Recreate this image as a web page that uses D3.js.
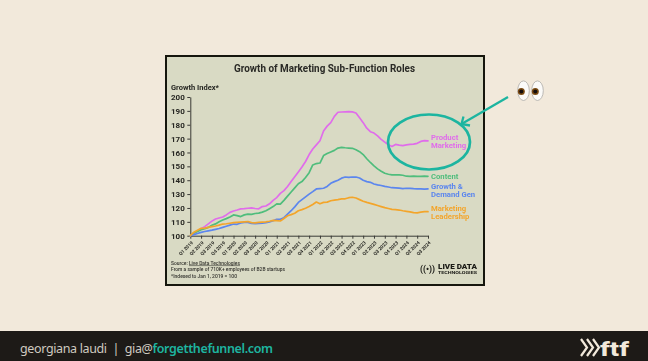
<!DOCTYPE html>
<html>
<head>
<meta charset="utf-8">
<script src="https://cdn.jsdelivr.net/npm/d3@7"></script>
<style>
html, body { margin: 0; padding: 0; background: #f2e9db; overflow: hidden; }
svg { display: block; }
text { font-family: Roboto, sans-serif; }
.axis path, .axis line { stroke: #3a3a36; stroke-width: 1; }
.axis text { fill: #262622; font-family: Roboto, sans-serif; font-weight: 700; }
.y.axis text { font-size: 8px; }
.x.axis text { font-size: 4.7px; }
.series { fill: none; stroke-width: 1.7; stroke-linejoin: round; stroke-linecap: round; }
</style>
</head>
<body>
<script>
const WIDTH = 648;
const HEIGHT = 361;

// one tick per quarter, the lines are read off roughly monthly
const quarters = ["Q1 2019","Q2 2019","Q3 2019","Q4 2019","Q1 2020","Q2 2020","Q3 2020","Q4 2020",
    "Q1 2021","Q2 2021","Q3 2021","Q4 2021","Q1 2022","Q2 2022","Q3 2022","Q4 2022",
    "Q1 2023","Q2 2023","Q3 2023","Q4 2023","Q1 2024","Q2 2024","Q3 2024"];
const yTicks = [100,110,120,130,140,150,160,170,180,190,200];

const productMarketing = [100,101.5,103.5, 105,106.5,108.5, 110.5,112,112.8, 113.5,115,116.8,
    117.8,118.5,119.3, 119.5,119.8,120, 119.6,119.4,121, 121.4,123,125.5,
    127.5,130.5,132.5, 135.5,139,142.5, 146,149.5,153.5, 158.5,162.5,165.5,
    168.5,175.5,179, 181.5,186,189, 189.2,189.3,189.4, 189.3,188.5,185,
    181.5,177.5,175, 174,172,169.5, 167.5,165.5,164.3, 165.8,165.3,165,
    165.5,165.8,166, 166.6,168,168.5, 168.3];
const content = [100,102,103, 104.3,105,106, 107.5,108.5,110, 111.3,112.3,113.5,
    115,114.5,113.8, 115,115.6,115.4, 116,116.3,117, 118,119.5,121,
    123,122.8,125.5, 128.5,131.5,134.5, 137.5,139,142, 145.4,151,152,
    152.4,157.8,159.2, 160.4,161.5,163.2, 163.7,163.4,163.2, 163,162,160.6,
    158.5,155.5,152.8, 150.3,148.2,146.5, 145,144.3,143.9, 143.8,143.9,143.6,
    142.9,142.8,142.9, 142.8,142.8,142.9, 142.8];
const growthDemandGen = [100,100.8,101.6, 102.4,103,103.5, 104,104.6,105.2, 106,106.8,107.6,
    108.4,108.2,109.2, 109.6,109.6,108.8, 108.7,108.9,109, 109.4,110,110.8,
    111.8,111.8,113, 115.5,118,120.8, 124,126,128, 130,131.8,133.7,
    134,134.2,135.5, 137.8,139,140, 141.5,142.3,142, 142.3,142.3,141.6,
    140,139,138.5, 137.3,136.7,136.2, 135.6,135.1,134.6, 134.5,134.3,134,
    134.2,134.1,133.9, 133.8,133.7,133.6, 133.7];
const marketingLeadership = [100,102.5,104, 105.3,105.5,106, 106.5,107,107.6, 108.4,108.6,109,
    109.4,109.6,109.8, 110,110.2,109.4, 109.3,109.6,109.8, 110,110.4,111,
    110.8,110.6,112.4, 114.4,115.2,116.2, 118,118.8,119.8, 121,122.5,124.3,
    123,124,124.2, 125.2,125.6,126, 126.5,126.6,127.4, 127.7,127.2,126,
    124.8,124,123.3, 122.6,121.8,121, 120.2,119.6,119, 118.8,118.5,118,
    117.6,117.2,116.6, 116.5,117,117.3, 117.3];

const seriesLabels = [["Product","Marketing"],["Content"],["Growth &","Demand Gen"],["Marketing","Leadership"]];
const seriesColors = ["#e06ceb","#4fbd7c","#5b86ee","#f3a52c"];
const labelBaselines = [139.5,178.5,188.5,210.5];
const seriesValues = [productMarketing,content,growthDemandGen,marketingLeadership];

const TEAL = "#1eb5a0";
const CREAM = "#f2e9db";

var svg = d3.select("body").append("svg")
    .attr("width", WIDTH)
    .attr("height", HEIGHT);

// soft edges, the reference is a slightly blurred screenshot
var defs = svg.append("defs");
defs.append("filter").attr("id", "soft")
    .attr("x", "-5%").attr("y", "-5%").attr("width", "110%").attr("height", "110%")
    .append("feGaussianBlur").attr("stdDeviation", 0.4);

svg.append("rect").attr("width", WIDTH).attr("height", HEIGHT).attr("fill", CREAM);

var card = svg.append("g").attr("filter", "url(#soft)");
card.append("rect")
    .attr("x", 166).attr("y", 56).attr("width", 318).attr("height", 229)
    .attr("fill", "#d9dac4")
    .attr("stroke", "#14140f")
    .attr("stroke-width", 2);

card.append("text")
    .attr("x", 234).attr("y", 72)
    .attr("textLength", 181).attr("lengthAdjust", "spacingAndGlyphs")
    .attr("font-size", 11.5).attr("font-weight", 700).attr("fill", "#2a2a26")
    .text("Growth of Marketing Sub-Function Roles");

card.append("text")
    .attr("x", 171).attr("y", 90)
    .attr("textLength", 48).attr("lengthAdjust", "spacingAndGlyphs")
    .attr("font-size", 8).attr("font-weight", 700).attr("fill", "#262622")
    .text("Growth Index*");

var x = d3.scaleLinear().domain([0, productMarketing.length - 1]).range([190.3, 428]);
var y = d3.scaleLinear().domain([100, 200]).range([235.7, 97]);

var yAxis = d3.axisLeft(y).tickValues(yTicks).tickSize(3).tickSizeOuter(0).tickPadding(2.5);
var xAxis = d3.axisBottom(x)
    .tickValues(quarters.map(function(q, i){ return i * 3; }))
    .tickFormat(function(d){ return quarters[d / 3]; })
    .tickSize(3).tickSizeOuter(0);

card.append("g")
    .attr("class", "y axis")
    .attr("transform", "translate(" + x.range()[0] + ",0)")
    .call(yAxis);

var xG = card.append("g")
    .attr("class", "x axis")
    .attr("transform", "translate(0," + y.range()[0] + ")")
    .call(xAxis);
xG.selectAll("text")
    .attr("text-anchor", "end")
    .attr("x", 0).attr("y", 0).attr("dy", 0)
    .attr("transform", "translate(2.5,7.5) rotate(-45)");

var valueLine = d3.line()
    .x(function(d, i){ return x(i); })
    .y(function(d){ return y(d); });

seriesValues.forEach(function(values, i){
    card.append("path")
        .attr("class", "series")
        .attr("stroke", seriesColors[i])
        .attr("d", valueLine(values));

    seriesLabels[i].forEach(function(line, j){
        card.append("text")
            .attr("x", 431)
            .attr("y", labelBaselines[i] + j * 8)
            .attr("font-size", 7.7).attr("font-weight", 700)
            .attr("fill", seriesColors[i])
            .text(line);
    });
});

// source notes
var notes = card.append("g").attr("font-size", 5.6).attr("fill", "#33332e").attr("font-weight", 500);
var sourceLine = notes.append("text").attr("x", 171).attr("y", 264.5)
    .attr("textLength", 69).attr("lengthAdjust", "spacingAndGlyphs");
sourceLine.append("tspan").text("Source: ");
sourceLine.append("tspan").attr("text-decoration", "underline").text("Live Data Technologies");
notes.append("text").attr("x", 171).attr("y", 271)
    .attr("textLength", 114).attr("lengthAdjust", "spacingAndGlyphs")
    .text("From a sample of 710K+ employees of B2B startups");
notes.append("text").attr("x", 171).attr("y", 277.5)
    .attr("textLength", 66).attr("lengthAdjust", "spacingAndGlyphs")
    .text("*Indexed to Jan 1, 2019 = 100");

// live data logo
card.append("text").attr("x", 420).attr("y", 271.5)
    .attr("font-size", 9).attr("font-weight", 700).attr("fill", "#1a1a16")
    .attr("textLength", 15).attr("lengthAdjust", "spacingAndGlyphs")
    .text("((•))");
card.append("text").attr("x", 438).attr("y", 269)
    .attr("font-size", 7).attr("font-weight", 900).attr("fill", "#1a1a16")
    .attr("textLength", 39).attr("lengthAdjust", "spacingAndGlyphs")
    .text("LIVE DATA");
card.append("text").attr("x", 438).attr("y", 274)
    .attr("font-size", 4.2).attr("font-weight", 700).attr("fill", "#1a1a16")
    .attr("textLength", 39).attr("lengthAdjust", "spacingAndGlyphs")
    .text("TECHNOLOGIES");

// teal annotation
var note = svg.append("g").attr("filter", "url(#soft)")
    .attr("fill", "none").attr("stroke", TEAL).attr("stroke-width", 2.7);
note.append("ellipse").attr("cx", 429).attr("cy", 142).attr("rx", 41).attr("ry", 27.5);
note.append("path").attr("d", "M508,97 L461.5,124").attr("stroke-width", 2.3);
note.append("path").attr("d", "M463.5,116.5 L461.5,124 L470,125.5").attr("stroke-width", 2.3);

// eyes
var eyes = svg.append("g").attr("filter", "url(#soft)");
[523.5, 537.5].forEach(function(cx){
    eyes.append("ellipse").attr("cx", cx).attr("cy", 90.7).attr("rx", 5.8).attr("ry", 9.8)
        .attr("fill", "#fbfaf8").attr("stroke", "#b4b2ae").attr("stroke-width", 0.9);
    eyes.append("circle").attr("cx", cx - 2.2).attr("cy", 91.5).attr("r", 3.5).attr("fill", "#7a4a12");
    eyes.append("circle").attr("cx", cx - 2.2).attr("cy", 91.5).attr("r", 2).attr("fill", "#14100c");
});

// footer
var footer = svg.append("g");
footer.append("rect").attr("x", 0).attr("y", 331).attr("width", WIDTH).attr("height", 30).attr("fill", "#1d1a17");
var footerText = footer.append("text")
    .attr("x", 20).attr("y", 353)
    .attr("font-size", 12.5)
    .attr("textLength", 253).attr("lengthAdjust", "spacing")
    .style("font-family", "'Noto Sans', sans-serif")
    .attr("fill", "#cfcac0");
footerText.append("tspan").text("georgiana laudi\u00a0\u00a0|\u00a0\u00a0gia@");
footerText.append("tspan").attr("fill", TEAL).attr("font-weight", 600).text("forgetthefunnel.com");

// ftf logo
var chevrons = footer.append("g").attr("fill", "none").attr("stroke", CREAM).attr("stroke-width", 2.2);
[0, 6, 12].forEach(function(dx){
    chevrons.append("path").attr("d", "M" + (581 + dx) + ",339 L" + (587 + dx) + ",347.5 L" + (581 + dx) + ",356");
});
footer.append("text").attr("x", 600).attr("y", 356)
    .attr("font-size", 21).attr("font-weight", 800)
    .attr("textLength", 29).attr("lengthAdjust", "spacingAndGlyphs")
    .attr("fill", CREAM)
    .text("ftf");
</script>
</body>
</html>
